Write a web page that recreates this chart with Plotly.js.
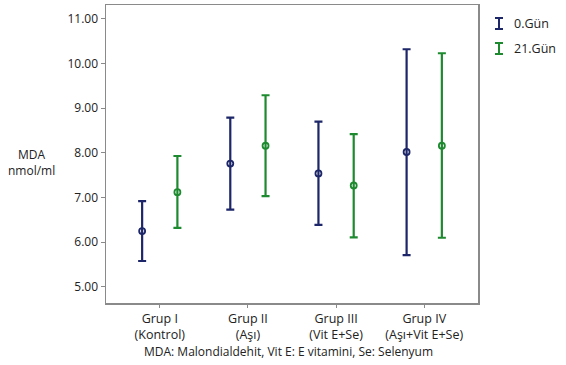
<!DOCTYPE html>
<html>
<head>
<meta charset="utf-8">
<script src="https://cdn.plot.ly/plotly-3.0.1.min.js"></script>
<style>html,body{margin:0;padding:0;background:#fff;}#chart{width:566px;height:365px;}</style>
</head>
<body>
<div id="chart"></div>
<script>
const categories = ["Grup I<br>(Kontrol)", "Grup II<br>(Aşı)", "Grup III<br>(Vit E+Se)", "Grup IV<br>(Aşı+Vit E+Se)"];
const seriesNames = ["0.Gün", "21.Gün"];
const day0Mean = [6.25, 7.76, 7.54, 8.02];
const day0Upper = [6.92, 8.79, 8.70, 10.32];
const day0Lower = [5.58, 6.73, 6.39, 5.71];
const day21Mean = [7.12, 8.16, 7.27, 8.16];
const day21Upper = [7.93, 9.29, 8.42, 10.23];
const day21Lower = [6.32, 7.03, 6.11, 6.10];
const yTicks = [5, 6, 7, 8, 9, 10, 11];
const colors = ["#1c2668", "#1e8a30"];

function trace(name, mean, upper, lower, color) {
  return {
    type: "scatter", mode: "markers", name: name, x: categories, y: mean,
    marker: {symbol: "circle-open", size: 6, color: color, line: {width: 1.8, color: color}},
    error_y: {type: "data", symmetric: false,
      array: upper.map((u, i) => u - mean[i]),
      arrayminus: lower.map((l, i) => mean[i] - l),
      color: color, thickness: 2.2, width: 4},
    showlegend: false, hoverinfo: "skip"
  };
}

const data = [
  trace(seriesNames[0], day0Mean, day0Upper, day0Lower, colors[0]),
  trace(seriesNames[1], day21Mean, day21Upper, day21Lower, colors[1])
];

function legendBeam(yTop, yBot, color) {
  const xc = 1.0565, xl = 1.0457, xr = 1.0672;
  const base = {xref: "paper", yref: "paper", line: {color: color, width: 2}};
  return [
    Object.assign({type: "line", x0: xc, x1: xc, y0: yTop, y1: yBot}, base),
    Object.assign({type: "line", x0: xl, x1: xr, y0: yTop, y1: yTop}, base),
    Object.assign({type: "line", x0: xl, x1: xr, y0: yBot, y1: yBot}, base)
  ];
}

const font = "'Open Sans', sans-serif";
const layout = {
  width: 566, height: 365,
  margin: {l: 106, r: 88, t: 5, b: 62},
  paper_bgcolor: "#fff", plot_bgcolor: "#fff",
  scattermode: "group", scattergap: 0.2,
  font: {family: font, size: 12, color: "#222"},
  xaxis: {type: "category", range: [-0.61, 3.61], showgrid: false, zeroline: false,
    showline: true, mirror: true, linecolor: "#8a8a8a", linewidth: 1.5,
    ticks: "outside", ticklen: 3, tickcolor: "#8a8a8a", tickfont: {family: font, size: 12.5, color: "#222"}},
  yaxis: {range: [4.64, 11.31], tickvals: yTicks, ticktext: yTicks.map(v => v.toFixed(2)),
    showgrid: false, zeroline: false, showline: true, mirror: true, linecolor: "#8a8a8a", linewidth: 1.5,
    ticks: "outside", ticklen: 4, tickcolor: "#8a8a8a", tickfont: {family: font, size: 12, color: "#222"}},
  shapes: legendBeam(0.9564, 0.9195, colors[0]).concat(legendBeam(0.8725, 0.8356, colors[1])),
  annotations: [
    {xref: "paper", yref: "paper", x: -0.2, y: 0.47, xanchor: "center", yanchor: "middle", showarrow: false,
     text: "MDA<br>nmol/ml", font: {family: font, size: 12, color: "#222"}, align: "center"},
    {xref: "paper", yref: "paper", x: 0.49, y: -0.162, xanchor: "center", yanchor: "middle", showarrow: false,
     text: "MDA: Malondialdehit, Vit E: E vitamini, Se: Selenyum", font: {family: font, size: 12, color: "#222"}},
    {xref: "paper", yref: "paper", x: 1.0914, y: 0.9379, xanchor: "left", yanchor: "middle", showarrow: false, align: "left",
     text: seriesNames[0], font: {family: font, size: 12.5, color: "#222"}},
    {xref: "paper", yref: "paper", x: 1.0914, y: 0.854, xanchor: "left", yanchor: "middle", showarrow: false, align: "left",
     text: seriesNames[1], font: {family: font, size: 12.5, color: "#222"}}
  ]
};

Plotly.newPlot("chart", data, layout, {displayModeBar: false, staticPlot: true});
</script>
</body>
</html>
